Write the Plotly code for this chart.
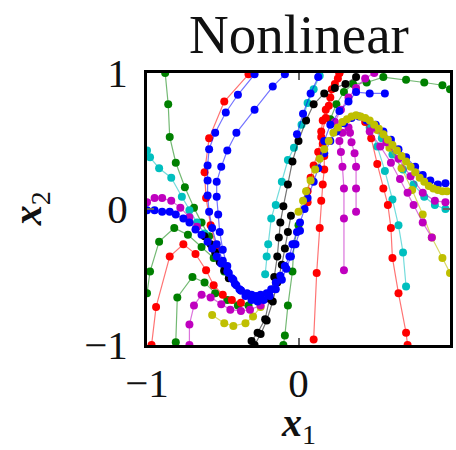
import plotly.graph_objects as go

# ---- trajectory data (x1, x2) ----
blue_main_x = [-1.0, -0.95, -0.90, -0.85, -0.81, -0.76, -0.72, -0.68, -0.64, -0.60,
               -0.57, -0.54, -0.51, -0.47, -0.44, -0.41, -0.38, -0.34, -0.31, -0.28,
               -0.25, -0.21, -0.18, -0.15, -0.12, -0.09, -0.06, -0.04, -0.01, 0.01,
               0.04, 0.06, 0.10, 0.13, 0.17, 0.21, 0.25, 0.30, 0.35, 0.40,
               0.45, 0.51, 0.56, 0.61, 0.66, 0.71, 0.77, 0.82, 0.87, 0.92, 0.97]
blue_main_y = [-0.01, -0.01, -0.02, -0.02, -0.04, -0.07, -0.10, -0.15, -0.19, -0.24,
               -0.29, -0.35, -0.40, -0.46, -0.51, -0.56, -0.60, -0.62, -0.63, -0.64,
               -0.63, -0.62, -0.59, -0.54, -0.49, -0.42, -0.35, -0.26, -0.17, -0.10,
               0.00, 0.08, 0.20, 0.30, 0.41, 0.50, 0.57, 0.63, 0.67, 0.68,
               0.65, 0.62, 0.57, 0.51, 0.44, 0.38, 0.31, 0.25, 0.21, 0.18, 0.19]

blue_b2_x = [-0.09, -0.17, -0.29, -0.41, -0.47, -0.51, -0.54, -0.54, -0.53, -0.52, -0.50, -0.47,
             -0.43, -0.39, -0.35, -0.31, -0.27, -0.23, -0.19, -0.15, -0.11, -0.08, -0.05, -0.02, 0.01]
blue_b2_y = [0.99, 0.90, 0.73, 0.56, 0.43, 0.31, 0.20, 0.09, -0.04, -0.17, -0.30, -0.42,
             -0.52, -0.59, -0.64, -0.67, -0.68, -0.67, -0.64, -0.59, -0.52, -0.44, -0.35, -0.26, -0.16]
blue_b3_x = [-0.29, -0.40, -0.48, -0.55, -0.59, -0.60, -0.60, -0.60, -0.59, -0.57, -0.54, -0.50, -0.46, -0.42, -0.38]
blue_b3_y = [0.99, 0.84, 0.71, 0.56, 0.44, 0.32, 0.21, 0.10, -0.02, -0.14, -0.26, -0.38, -0.47, -0.55, -0.60]
blue_b4_x = [0.57, 0.47, 0.38, 0.33, 0.27, 0.21, 0.17]
blue_b4_y = [0.85, 0.85, 0.86, 0.79, 0.72, 0.62, 0.50]
blue_b5_x = [0.13, 0.08, 0.03, -0.01]
blue_b5_y = [0.97, 0.85, 0.70, 0.55]

red_r1_x = [-0.33, -0.49, -0.59, -0.62, -0.61, -0.58, -0.54]
red_r1_y = [0.99, 0.79, 0.52, 0.27, 0.08, -0.12, -0.30]
red_r2_x = [-0.97, -0.94, -0.85, -0.76, -0.68, -0.61, -0.56, -0.50, -0.44, -0.38]
red_r2_y = [-1.0, -0.72, -0.35, -0.26, -0.33, -0.45, -0.56, -0.63, -0.67, -0.69]
red_r3_x = [0.10, 0.12, 0.14, 0.15, 0.16, 0.17, 0.17, 0.16, 0.15, 0.16, 0.18, 0.21, 0.24, 0.27]
red_r3_y = [-0.96, -0.47, -0.14, 0.06, 0.18, 0.29, 0.39, 0.48, 0.57, 0.65, 0.73, 0.82, 0.92, 1.0]
red_r4_x = [0.27, 0.26, 0.22, 0.20, 0.18, 0.15, 0.13, 0.10, 0.08, 0.06, 0.06]
red_r4_y = [1.0, 0.96, 0.88, 0.76, 0.67, 0.53, 0.42, 0.32, 0.23, 0.13, 0.05]
red_r5_x = [0.44, 0.48, 0.52, 0.56, 0.59, 0.61, 0.62, 0.66, 0.71, 0.72]
red_r5_y = [0.64, 0.52, 0.33, 0.15, 0.03, -0.14, -0.36, -0.62, -0.91, -1.0]

cyan_c1_x = [-1.0, -0.98, -0.92, -0.84, -0.77, -0.72, -0.67, -0.62]
cyan_c1_y = [0.43, 0.38, 0.30, 0.23, 0.09, -0.01, -0.10, -0.18]
cyan_c2_x = [0.14, 0.10, 0.06, 0.02, -0.03, -0.07, -0.11, -0.15, -0.18, -0.20, -0.21, -0.22]
cyan_c2_y = [0.98, 0.88, 0.78, 0.62, 0.45, 0.36, 0.20, 0.03, -0.07, -0.26, -0.35, -0.48]
cyan_c3_x = [0.71, 0.69, 0.66, 0.62, 0.57, 0.52, 0.47]
cyan_c3_y = [-0.57, -0.32, -0.12, 0.07, 0.28, 0.46, 0.60]
cyan_c4_x = [0.47, 0.55, 0.62, 0.69, 0.76, 0.83, 0.90, 0.97]
cyan_c4_y = [0.62, 0.52, 0.40, 0.29, 0.18, 0.09, 0.03, 0.00]

mag_m1_x = [-1.0, -0.95, -0.90, -0.84, -0.78, -0.72, -0.67]
mag_m1_y = [0.05, 0.08, 0.08, 0.06, 0.01, -0.06, -0.13]
mag_m2_x = [-0.72, -0.72, -0.69, -0.64, -0.58, -0.51, -0.45, -0.38, -0.32, -0.25, -0.19]
mag_m2_y = [-1.0, -0.85, -0.71, -0.63, -0.65, -0.70, -0.74, -0.75, -0.74, -0.71, -0.66]
mag_m3_x = [0.30, 0.30, 0.30, 0.29, 0.28, 0.27, 0.29, 0.33]
mag_m3_y = [-0.45, -0.07, 0.15, 0.31, 0.42, 0.50, 0.56, 0.60]
mag_m4_x = [0.38, 0.38, 0.38, 0.37, 0.35, 0.34]
mag_m4_y = [-0.02, 0.15, 0.31, 0.41, 0.49, 0.56]
mag_m5_x = [0.47, 0.54, 0.61, 0.67, 0.72, 0.76, 0.82, 0.88]
mag_m5_y = [0.57, 0.46, 0.34, 0.22, 0.12, 0.03, -0.10, -0.21]
mag_m6_x = [0.50, 0.58, 0.66, 0.74, 0.82, 0.90, 0.97]
mag_m6_y = [0.60, 0.49, 0.37, 0.24, 0.12, 0.06, 0.05]
mag_m7_x = [0.50, 0.44, 0.38, 0.33, 0.28, 0.24]
mag_m7_y = [1.0, 0.96, 0.89, 0.82, 0.73, 0.64]

black_k1_x = [-0.31, -0.27, -0.22, -0.19, -0.16, -0.14, -0.13, -0.12, -0.10, -0.07, -0.04,
              0.0, 0.05, 0.10, 0.17, 0.24, 0.31, 0.38]
black_k1_y = [-0.97, -0.91, -0.81, -0.66, -0.50, -0.35, -0.21, -0.10, 0.02, 0.18, 0.35,
              0.50, 0.65, 0.77, 0.85, 0.89, 0.92, 0.97]
black_k2_x = [-0.29, -0.25, -0.21, -0.17, -0.14, -0.11, -0.09, -0.07, -0.05]
black_k2_y = [-1.0, -0.92, -0.82, -0.68, -0.54, -0.41, -0.29, -0.17, -0.05]
black_k3_x = [-0.62, -0.58, -0.55, -0.52, -0.49, -0.46]
black_k3_y = [-0.20, -0.26, -0.32, -0.39, -0.45, -0.51]

green_g1_x = [-0.88, -0.86, -0.85, -0.81, -0.75, -0.69, -0.64, -0.59]
green_g1_y = [1.0, 0.77, 0.53, 0.34, 0.16, 0.01, -0.10, -0.20]
green_g2_x = [-1.0, -0.98, -0.92, -0.82, -0.73, -0.64, -0.56, -0.49]
green_g2_y = [-0.62, -0.46, -0.24, -0.14, -0.19, -0.28, -0.36, -0.46]
green_g3_x = [-0.81, -0.80, -0.70, -0.62, -0.55, -0.47, -0.40, -0.33]
green_g3_y = [-0.98, -0.65, -0.50, -0.54, -0.62, -0.67, -0.71, -0.71]
green_g4_x = [-0.10, -0.09, -0.07, -0.04, -0.03, 0.0]
green_g4_y = [-1.0, -0.93, -0.71, -0.46, -0.26, -0.12]
green_g6_x = [1.0, 0.95, 0.83, 0.71, 0.56, 0.45, 0.36, 0.30, 0.25, 0.21]
green_g6_y = [0.88, 0.91, 0.93, 0.95, 0.97, 0.93, 0.92, 0.86, 0.77, 0.66]

yel_low_x = [-0.57, -0.49, -0.43, -0.35, -0.30, -0.25]
yel_low_y = [-0.78, -0.84, -0.86, -0.84, -0.79, -0.72]
yel_main_x = [0.00, 0.03, 0.05, 0.08, 0.11, 0.14, 0.17, 0.20, 0.23, 0.26, 0.29, 0.32, 0.35, 0.38,
              0.41, 0.44, 0.47, 0.50, 0.53, 0.56, 0.59, 0.62, 0.65, 0.68, 0.71, 0.74, 0.77, 0.80,
              0.83, 0.86, 0.89, 0.92, 0.95, 0.98]
yel_main_y = [-0.02, 0.06, 0.13, 0.21, 0.29, 0.37, 0.44, 0.50, 0.56, 0.60, 0.64, 0.66, 0.68, 0.69,
              0.68, 0.67, 0.65, 0.62, 0.59, 0.55, 0.51, 0.47, 0.43, 0.39, 0.35, 0.31, 0.27, 0.23,
              0.20, 0.17, 0.15, 0.14, 0.13, 0.13]
yel_y2_x = [0.52, 0.60, 0.68, 0.75, 0.82, 0.88, 0.95, 1.0]
yel_y2_y = [0.58, 0.45, 0.30, 0.14, -0.04, -0.21, -0.36, -0.47]

# ---- colours ----
BLUE = "#0000ff"
GREEN = "#008000"
RED = "#ff0000"
CYAN = "#00bfbf"
MAGENTA = "#bf00bf"
YELLOW = "#bfbf00"
BLACK = "#000000"

LINE_ALPHA = {
    BLUE: "rgba(0,0,255,0.55)", GREEN: "rgba(0,128,0,0.55)", RED: "rgba(255,0,0,0.55)",
    CYAN: "rgba(0,191,191,0.55)", MAGENTA: "rgba(191,0,191,0.55)",
    YELLOW: "rgba(191,191,0,0.6)", BLACK: "rgba(0,0,0,0.55)",
}

# drawing order: back to front
trajectories = [
    (GREEN, green_g1_x, green_g1_y), (GREEN, green_g2_x, green_g2_y),
    (GREEN, green_g3_x, green_g3_y), (GREEN, green_g4_x, green_g4_y),
    (GREEN, green_g6_x, green_g6_y),
    (CYAN, cyan_c1_x, cyan_c1_y), (CYAN, cyan_c2_x, cyan_c2_y),
    (CYAN, cyan_c3_x, cyan_c3_y), (CYAN, cyan_c4_x, cyan_c4_y),
    (RED, red_r1_x, red_r1_y), (RED, red_r2_x, red_r2_y),
    (RED, red_r3_x, red_r3_y), (RED, red_r4_x, red_r4_y), (RED, red_r5_x, red_r5_y),
    (YELLOW, yel_low_x, yel_low_y), (YELLOW, yel_y2_x, yel_y2_y),
    (MAGENTA, mag_m1_x, mag_m1_y), (MAGENTA, mag_m2_x, mag_m2_y),
    (MAGENTA, mag_m3_x, mag_m3_y), (MAGENTA, mag_m4_x, mag_m4_y),
    (MAGENTA, mag_m5_x, mag_m5_y), (MAGENTA, mag_m6_x, mag_m6_y),
    (MAGENTA, mag_m7_x, mag_m7_y),
    (BLACK, black_k1_x, black_k1_y), (BLACK, black_k2_x, black_k2_y),
    (BLACK, black_k3_x, black_k3_y),
    (BLUE, blue_b2_x, blue_b2_y), (BLUE, blue_b3_x, blue_b3_y),
    (BLUE, blue_b4_x, blue_b4_y), (BLUE, blue_b5_x, blue_b5_y),
    (BLUE, blue_main_x, blue_main_y),
    (YELLOW, yel_main_x, yel_main_y),
]

fig = go.Figure()
for color, xs, ys in trajectories:
    fig.add_trace(go.Scatter(
        x=xs, y=ys, mode="lines+markers",
        line=dict(color=LINE_ALPHA[color], width=1.2),
        marker=dict(color=color, size=8, line=dict(width=0)),
        showlegend=False, hoverinfo="skip",
    ))

SERIF = "Liberation Serif"
axis_common = dict(
    range=[-1, 1], showgrid=False, zeroline=False,
    showline=True, linecolor="black", linewidth=3, mirror="ticks",
    ticks="inside", ticklen=7, tickwidth=2, tickcolor="#666",
    tickvals=[-1, 0, 1], ticktext=["\u22121", "0", "1"],
    tickfont=dict(family=SERIF, size=41, color="#111"),
)
fig.update_xaxes(**axis_common)
fig.update_yaxes(**axis_common, ticklabelstandoff=8)

fig.add_annotation(text="Nonlinear", xref="paper", yref="paper", x=0.5, y=1.14,
                   xanchor="center", yanchor="middle", showarrow=False,
                   font=dict(family=SERIF, size=55, color="#111"))
# axis labels: bold italic variable with subscript index
fig.add_annotation(text="<b><i>x</i></b><sub>1</sub>", xref="paper", yref="paper",
                   x=0.5, y=-0.295, xanchor="center", yanchor="middle", showarrow=False,
                   font=dict(family=SERIF, size=40, color="#111"))
fig.add_annotation(text="<b><i>x</i></b><sub>2</sub>", xref="paper", yref="paper",
                   x=-0.385, y=0.5, xanchor="center", yanchor="middle", showarrow=False,
                   textangle=-90, font=dict(family=SERIF, size=40, color="#111"))

fig.update_layout(
    width=456, height=450,
    margin=dict(l=147, r=3, t=73, b=105),
    paper_bgcolor="white", plot_bgcolor="white",
)

fig.write_html("out.html")
